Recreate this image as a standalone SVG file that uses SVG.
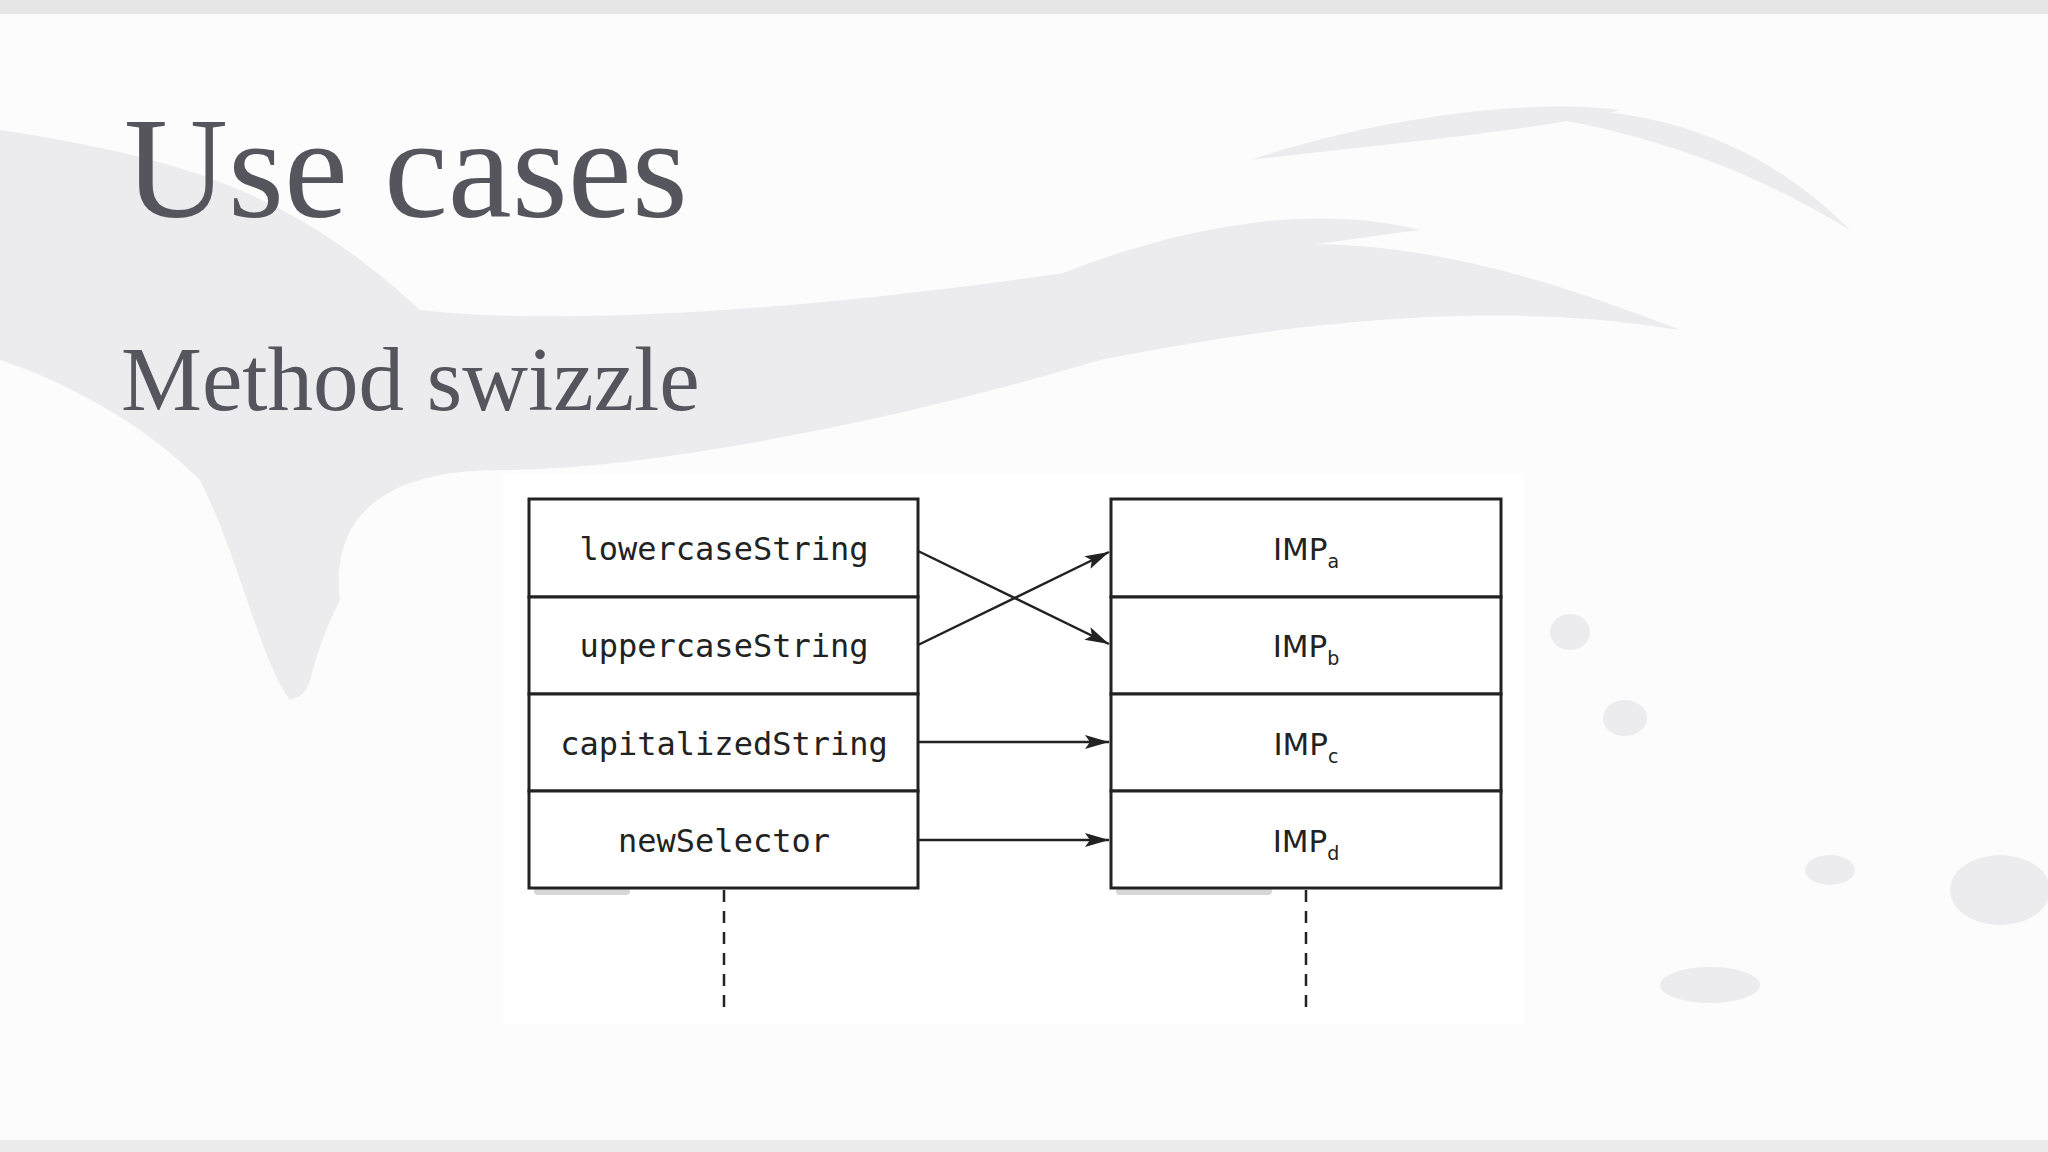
<svg xmlns="http://www.w3.org/2000/svg" width="2048" height="1152" viewBox="0 0 2048 1152">
<style>
.box{fill:#fff;stroke:#222;stroke-width:3}
.lbl{font-family:"DejaVu Sans Mono",monospace;font-size:32px;fill:#222;text-anchor:middle}
.imp{font-family:"DejaVu Sans",sans-serif;font-size:31px;fill:#222;text-anchor:middle}
.sub{font-size:19px}
.ar{stroke:#222;stroke-width:2.5;fill:none;marker-end:url(#ah)}
.dash{stroke:#222;stroke-width:2.5;stroke-dasharray:12 9}
.brush{fill:#ececee}
</style>
<defs>
<marker id="ah" viewBox="0 0 24 14" refX="24" refY="7" markerWidth="24" markerHeight="14" markerUnits="userSpaceOnUse" orient="auto"><path d="M0,0 L24,7 L0,14 L5,7 Z" fill="#222"/></marker>
</defs>
<rect width="2048" height="1152" fill="#fcfcfc"/>
<rect x="0" y="0" width="2048" height="14" fill="#e6e6e6"/>
<rect x="0" y="1140" width="2048" height="12" fill="#ececec"/>
<path class="brush" d="M0,130 C200,160 300,200 420,310 C600,330 900,300 1150,260 C1350,220 1500,260 1680,330 C1500,300 1300,320 1100,360 C900,420 650,470 500,470 C380,470 330,520 340,600 C300,680 320,690 290,700 C260,660 240,560 200,480 C140,420 60,380 0,360 Z"/>
<path class="brush" d="M1000,300 C1150,230 1300,200 1420,230 C1340,240 1200,260 1000,300 Z"/>
<path class="brush" d="M1250,160 C1400,110 1550,100 1620,110 C1540,130 1420,140 1250,160 Z"/>
<path class="brush" d="M1500,110 C1650,100 1760,140 1850,230 C1750,170 1650,130 1500,110 Z"/>
<ellipse class="brush" cx="1710" cy="985" rx="50" ry="18"/>
<ellipse class="brush" cx="2000" cy="890" rx="50" ry="35"/>
<ellipse class="brush" cx="1830" cy="870" rx="25" ry="15"/>
<ellipse class="brush" cx="1570" cy="632" rx="20" ry="18"/>
<ellipse class="brush" cx="1625" cy="718" rx="22" ry="18"/>
<rect x="503" y="474" width="1020" height="550" fill="#fff"/>
<text x="124" y="217" font-family="Liberation Serif,serif" font-size="144" fill="#55555d">Use cases</text>
<text x="121" y="410" font-family="Liberation Serif,serif" font-size="91" fill="#55555d">Method swizzle</text>
<g id="shadows" fill="#bbb" opacity="0.6">
<rect x="534" y="887" width="96" height="8" rx="4"/>
<rect x="1116" y="887" width="156" height="8" rx="4"/>
</g>
<g id="left">
<rect class="box" x="529" y="499" width="389" height="98"/>
<rect class="box" x="529" y="597" width="389" height="97"/>
<rect class="box" x="529" y="694" width="389" height="97"/>
<rect class="box" x="529" y="791" width="389" height="97"/>
<text class="lbl" x="724" y="560">lowercaseString</text>
<text class="lbl" x="724" y="657">uppercaseString</text>
<text class="lbl" x="724" y="755">capitalizedString</text>
<text class="lbl" x="724" y="852">newSelector</text>
</g>
<g id="right">
<rect class="box" x="1111" y="499" width="390" height="98"/>
<rect class="box" x="1111" y="597" width="390" height="97"/>
<rect class="box" x="1111" y="694" width="390" height="97"/>
<rect class="box" x="1111" y="791" width="390" height="97"/>
<text class="imp" x="1306" y="560">IMP<tspan class="sub" dy="8">a</tspan></text>
<text class="imp" x="1306" y="657">IMP<tspan class="sub" dy="8">b</tspan></text>
<text class="imp" x="1306" y="755">IMP<tspan class="sub" dy="8">c</tspan></text>
<text class="imp" x="1306" y="852">IMP<tspan class="sub" dy="8">d</tspan></text>
</g>
<g id="connectors">
<line class="ar" x1="918" y1="551" x2="1109" y2="644"/>
<line class="ar" x1="918" y1="645" x2="1109" y2="552"/>
<line class="ar" x1="918" y1="742" x2="1109" y2="742"/>
<line class="ar" x1="918" y1="840" x2="1109" y2="840"/>
<line class="dash" x1="724" y1="890" x2="724" y2="1010"/>
<line class="dash" x1="1306" y1="890" x2="1306" y2="1010"/>
</g>
</svg>
